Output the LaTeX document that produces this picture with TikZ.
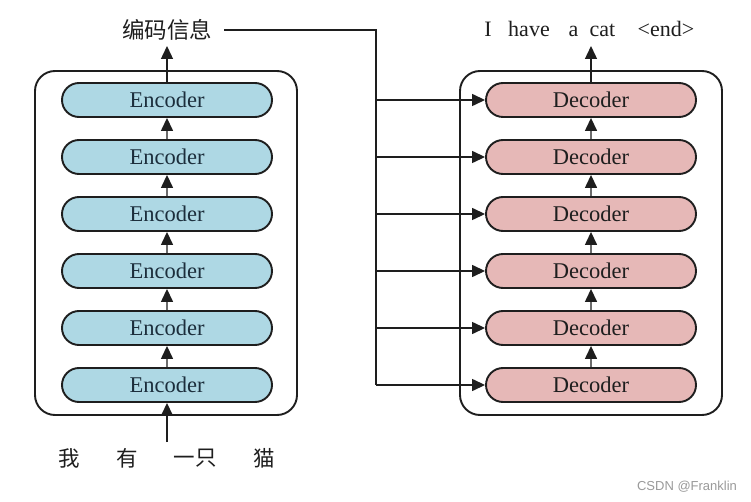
\documentclass[tikz,border=0pt]{standalone}
\usepackage{fontspec}
\setmainfont{Liberation Serif}
\newfontfamily\cjk{Noto Sans CJK SC}
\newfontfamily\wmfont{Liberation Sans}
\usetikzlibrary{shapes.misc,arrows.meta}
\definecolor{encfill}{HTML}{AED8E4}
\definecolor{decfill}{HTML}{E6B8B7}
\definecolor{wmgray}{HTML}{9A9A9A}
\definecolor{inkc}{HTML}{1E1E1E}
\definecolor{enctext}{HTML}{1C2E3C}
\begin{document}
\begin{tikzpicture}[x=1pt,y=-1pt,
  layer/.style={rounded rectangle, draw=inkc, line width=1.9pt,
    minimum width=210pt, minimum height=34pt, inner sep=0pt,
    text=inkc, font=\fontsize{22.5}{22.5}\selectfont},
  enc/.style={layer, fill=encfill, text=enctext},
  dec/.style={layer, fill=decfill},
  stack/.style={draw=inkc, line width=1.9pt, rounded corners=20pt,
    minimum width=262pt, minimum height=344pt, inner sep=0pt},
  flow/.style={-{Triangle[length=13pt,width=12pt]}, line width=1.4pt, draw=inkc},
  wire/.style={line width=1.4pt, draw=inkc},
  zh/.style={font=\cjk\fontsize{21.5}{21.5}\selectfont, text=inkc, inner sep=0pt},
  en/.style={font=\fontsize{22}{22}\selectfont, text=inkc, inner sep=0pt, anchor=base}
]
\useasboundingbox (0,0) rectangle (751,502);
\fill[white] (0,0) rectangle (751,502);

% outer frames of the two stacks
\node[stack] (encstack) at (166,243) {};
\node[stack] (decstack) at (591,243) {};

% encoder and decoder layers, bottom to top
\foreach \i/\y in {1/385,2/328,3/271,4/214,5/157,6/100}{
  \node[enc] (e\i) at (167,\y) {Encoder};
  \node[dec] (d\i) at (591,\y) {Decoder};
}

% arrows between stacked layers
\foreach \i/\j in {1/2,2/3,3/4,4/5,5/6}{
  \draw[flow] (e\i) -- (e\j);
  \draw[flow] (d\i) -- (d\j);
}

% input words
\coordinate (in) at (167,442);
\draw[flow] (in) -- (e1.south);
\node[zh] (w1) at (69,458) {我};
\node[zh] (w2) at (127,458) {有};
\node[zh] (w3) at (195,458) {一只};
\node[zh] (w4) at (264,458) {猫};

% encoder output
\node[zh, font=\cjk\fontsize{22.5}{22.5}\selectfont] (ctx) at (167,30) {编码信息};
\coordinate (encout) at (167,46);
\draw[flow] (e6.north) -- (encout);

% context bus feeding every decoder layer
\coordinate (bus) at (376,0);
\draw[wire] ([xshift=12pt]ctx.east) -| (bus |- d1);
\foreach \i in {1,...,6}{
  \draw[flow] (bus |- d\i) -- (d\i.west);
}

% decoder output
\coordinate (decout) at (591,46);
\draw[flow] (d6.north) -- (decout);
\node[en] (o1) at (488,37) {I};
\node[en] (o2) at (529,37) {have};
\node[en] (o3) at (573.5,37) {a};
\node[en] (o4) at (602.5,37) {cat};
\node[en] (o5) at (666,37) {\textless end\textgreater};

% watermark
\node[font=\wmfont\fontsize{13}{13}\selectfont, text=wmgray, inner sep=0pt] (wm) at (687,487) {CSDN @Franklin};
\end{tikzpicture}
\end{document}
